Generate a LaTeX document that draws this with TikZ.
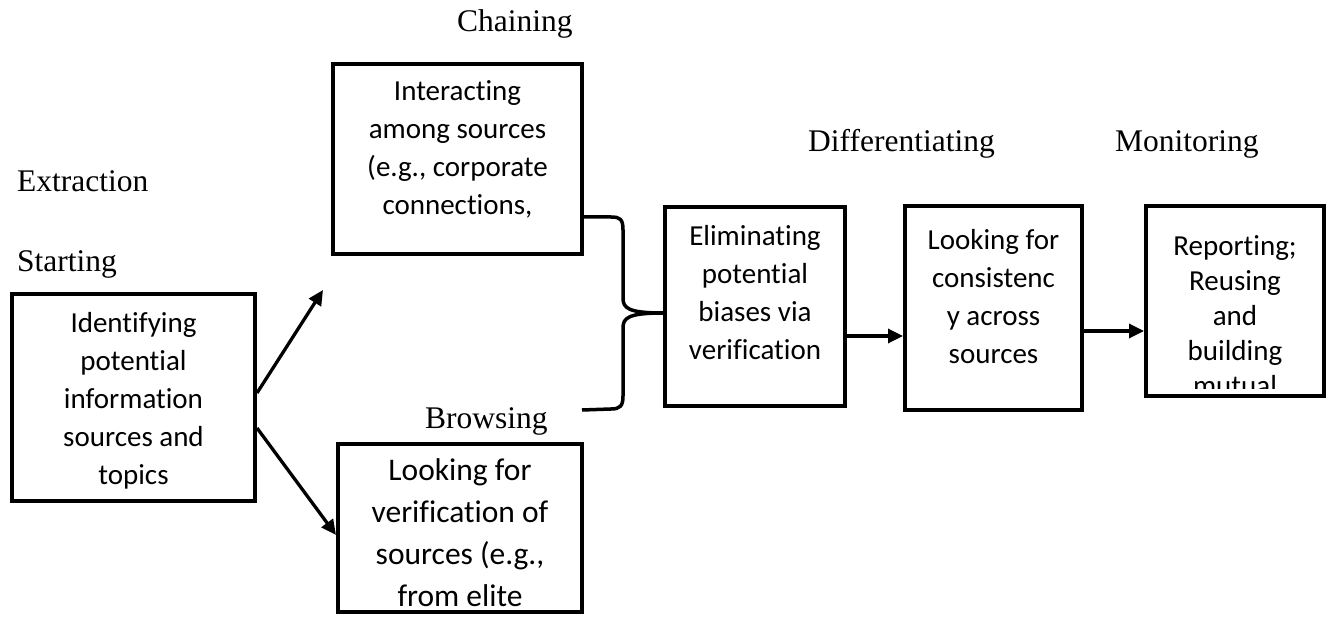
\documentclass[tikz,border=0pt]{standalone}
\usepackage{fontspec}
\newfontfamily\boxfont{Carlito}[RawFeature={-liga,-clig,-dlig,-calt}]
\newfontfamily\labelfont{Liberation Serif}
\usetikzlibrary{arrows.meta,calc}

\begin{document}
\begin{tikzpicture}[x=1pt,y=-1pt,
  box/.style={draw, line width=4pt, inner sep=0pt, fill=white},
  boxtext/.style={anchor=north, align=center, inner sep=0pt,
    font=\boxfont\fontsize{29}{38}\selectfont},
  lab/.style={anchor=base west, inner sep=0pt,
    font=\labelfont\fontsize{31.5}{38}\selectfont},
  flow/.style={line width=3.3pt, -{Triangle[length=15pt,width=14pt]}},
  brace/.style={line width=3.5pt, line join=round}]
\useasboundingbox (0,0) rectangle (1330,617);

% stage labels
\node[lab] (chain) at (457,32) {Chaining};
\node[lab] (diff) at (808,152) {Differentiating};
\node[lab] (moni) at (1115,152) {Monitoring};
\node[lab] (extr) at (17,192) {Extraction};
\node[lab] (start) at (17,272) {Starting};
\node[lab] (brow) at (425,428) {Browsing};

% boxes
\node[box, minimum width=243pt, minimum height=207pt] (b1) at (133.5,397.5) {};
\node[box, minimum width=249pt, minimum height=190pt] (b2) at (457.5,159) {};
\node[box, minimum width=244pt, minimum height=168pt] (b3) at (460,528) {};
\node[box, minimum width=180pt, minimum height=199pt] (b4) at (755,306.5) {};
\node[box, minimum width=177pt, minimum height=204pt] (b5) at (993.5,308) {};
\node[box, minimum width=178pt, minimum height=190pt] (b6) at (1235,301) {};

% box texts
\node[boxtext] (t1) at (133.5,305.4) {\strut Identifying\\potential\\information\\sources and\\topics};
\node[boxtext] (t2) at (457.5,73.4) {\strut Interacting\\among sources\\(e.g., corporate\\connections,};
\node[boxtext, font=\boxfont\fontsize{31.5}{42}\selectfont] (t3) at (460,451) {\strut Looking for\\verification of\\sources (e.g.,\\from elite};
\node[boxtext] (t4) at (755,218.4) {\strut Eliminating\\potential\\biases via\\verification};
\node[boxtext] (t5) at (993.5,222.4) {\strut Looking for\\consistenc\\y across\\sources};
\begin{scope}
  \clip (b6.north west) rectangle ($(b6.south east)+(0,-10)$);
  \node[boxtext, font=\boxfont\fontsize{29}{35}\selectfont] (t6) at (1235,230.5) {\strut Reporting;\\Reusing\\and\\building\\mutual};
\end{scope}

% connectors
\coordinate (up) at (323,290);
\draw[flow] ($(b1.east)+(0,-4.5)$) -- (up);
\draw[flow] ($(b1.east)+(0,30.5)$) -- ($(b3.west)+(0,7)$);

\coordinate (s45) at ($(b4.east)+(0,29.5)$);
\draw[flow] (s45) -- (s45 -| b5.west);
\coordinate (s56) at ($(b5.east)+(0,23)$);
\draw[flow] (s56) -- (s56 -| b6.west);

% brace joining both branches
\coordinate (bt) at ($(b2.east)+(0,58)$);
\coordinate (tip) at ($(b4.west)+(0,6.5)$);
\coordinate (bb) at (582,410);
\draw[brace] (bt) -- (611,217) .. controls (620,217) and (623,219) .. (623,230)
  -- (623,298) .. controls (623,308) and (628,313) .. (tip);
\draw[brace] (tip) .. controls (628,313) and (623,318) .. (623,328)
  -- (623,396) .. controls (623,406) and (620,409) .. (611,409) -- (bb);
\end{tikzpicture}
\end{document}
